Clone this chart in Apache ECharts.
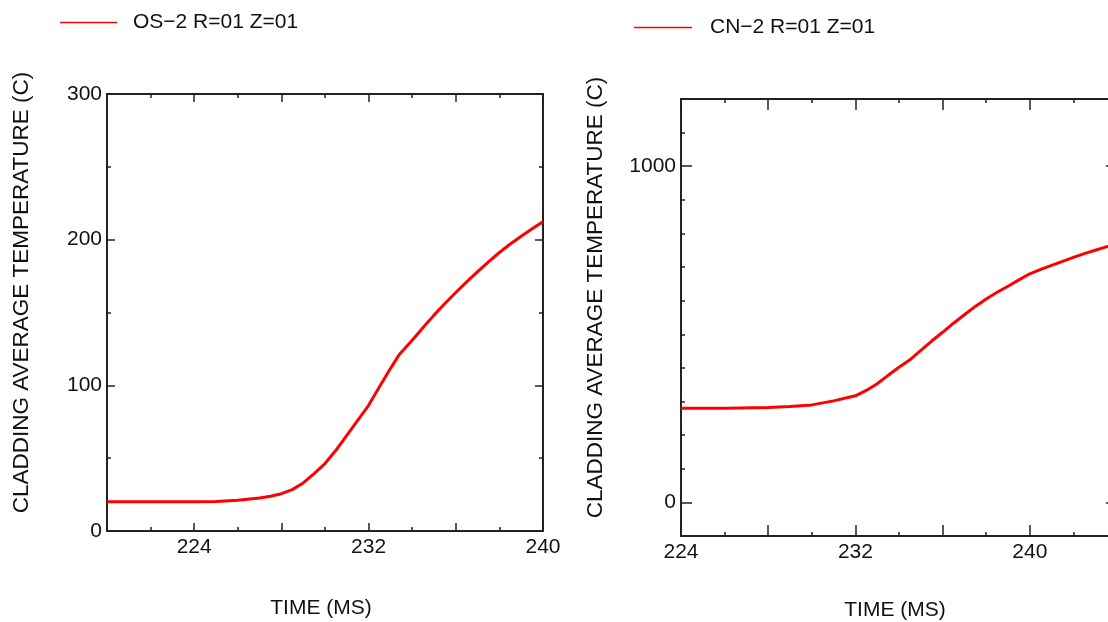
<!DOCTYPE html>
<html>
<head>
<meta charset="utf-8">
<script src="https://cdn.jsdelivr.net/npm/echarts@6/dist/echarts.min.js"></script>
<style>html,body{margin:0;padding:0;background:#fff}#c{width:1108px;height:622px}</style>
</head>
<body>
<div id="c"></div>
<script>
// ---- data ----
const osName = 'OS\u22122 R=01 Z=01';
const cnName = 'CN\u22122 R=01 Z=01';
const osTime = [220, 221, 222, 223, 224, 225, 226, 227, 227.5, 228, 228.5, 229, 229.5, 230, 230.5, 231, 231.5, 232, 232.5, 233, 233.42, 234, 234.5, 235, 235.5, 236, 236.5, 237, 237.5, 238, 238.5, 239, 239.5, 240];
const osTemp = [20.0, 20.0, 20.0, 20.0, 20.0, 20.2, 21.1, 22.7, 23.8, 25.6, 28.4, 33.0, 39.4, 46.3, 55.4, 65.7, 76.0, 86.3, 99.0, 111.5, 121.4, 131.0, 139.7, 148.2, 156.2, 163.7, 171.0, 178.0, 184.8, 191.2, 197.0, 202.4, 207.5, 212.3];
const cnTime = [224, 226, 228, 229, 230, 231, 232, 232.5, 233, 233.5, 234, 234.5, 235, 235.5, 236, 236.5, 237, 237.5, 238, 238.5, 239, 239.5, 240, 240.5, 241, 241.5, 242, 242.5, 243, 243.5, 244];
const cnTemp = [280, 280, 282, 285, 290, 302, 317, 333, 353, 378, 402, 424, 452, 480, 506, 533, 558, 583, 605, 625, 643, 662, 680, 693, 705, 717, 729, 740, 750, 760, 770];
const osXLabels = [224, 232, 240];
const cnXLabels = [224, 232, 240];
const osYLabels = [0, 100, 200, 300];
const cnYLabels = [0, 1000];
const xTitle = 'TIME (MS)';
const yTitle = 'CLADDING AVERAGE TEMPERATURE (C)';

const FONT = "'Liberation Sans', Arial, sans-serif";
const INK = '#222';
const lab = (vals, margin) => ({show: true, customValues: vals, fontSize: 21, fontFamily: FONT, color: '#111', margin: margin,
  formatter: v => String(v)});
const line = {show: true, onZero: false, lineStyle: {color: INK, width: 2}};

function xAx(grid, pos, min, max, major, labels, margin, name, gap) {
  return {
    type: 'value', gridIndex: grid, position: pos, min: min, max: max, interval: 4,
    axisLine: line,
    axisTick: {show: true, inside: true, length: major, lineStyle: {color: INK, width: 1.5}},
    minorTick: {show: true, splitNumber: 2, length: 4, lineStyle: {color: INK, width: 1.5}},
    splitLine: {show: false}, minorSplitLine: {show: false},
    axisLabel: labels ? lab(labels, margin) : {show: false},
    name: name || '', nameLocation: 'middle', nameGap: gap || 0,
    nameTextStyle: {fontSize: 21, fontFamily: FONT, color: '#111', padding: [0, 8, 0, 0]}
  };
}
function yAx(grid, pos, min, max, interval, opt) {
  return Object.assign({
    type: 'value', gridIndex: grid, position: pos, min: min, max: max, interval: interval,
    axisLine: line,
    axisTick: {show: true, inside: true, length: 8, lineStyle: {color: INK, width: 1.5}},
    minorTick: {show: false},
    splitLine: {show: false}, minorSplitLine: {show: false},
    axisLabel: {show: false}
  }, opt);
}
const yName = (gap) => ({name: yTitle, nameLocation: 'middle', nameGap: gap, nameRotate: 90,
  nameTextStyle: {fontSize: 22.5, fontFamily: FONT, color: '#111', padding: [0, 0, 0, 40]}});

const chart = echarts.init(document.getElementById('c'), null, {renderer: 'canvas'});
chart.setOption({
  animation: false,
  backgroundColor: '#fff',
  grid: [
    {left: 107, top: 94, width: 436, height: 437, containLabel: false, outerBoundsMode: 'none'},
    {left: 681, top: 99, width: 436, height: 437, containLabel: false, outerBoundsMode: 'none'}
  ],
  legend: [
    {data: [osName], left: 60, top: 12, padding: 0, icon: 'rect', itemWidth: 57, itemHeight: 1.5,
     textStyle: {fontSize: 21, fontFamily: FONT, color: '#111', padding: [0, 0, 0, 11]}},
    {data: [cnName], left: 634, top: 17, padding: 0, icon: 'rect', itemWidth: 58, itemHeight: 1.5,
     textStyle: {fontSize: 21, fontFamily: FONT, color: '#111', padding: [0, 0, 0, 13]}}
  ],
  xAxis: [
    xAx(0, 'bottom', 220, 240, 8, osXLabels, 6, xTitle, 67),
    xAx(0, 'top', 220, 240, 8, null, 0),
    xAx(1, 'bottom', 224, 244, 11, cnXLabels, 6, xTitle, 64),
    xAx(1, 'top', 224, 244, 11, null, 0)
  ],
  yAxis: [
    yAx(0, 'left', 0, 300, 100, Object.assign({
      minorTick: {show: true, splitNumber: 2, length: 4, lineStyle: {color: INK, width: 1.5}},
      axisLabel: lab(osYLabels, 5)}, yName(74))),
    yAx(0, 'right', 0, 300, 100, {
      minorTick: {show: true, splitNumber: 2, length: 4, lineStyle: {color: INK, width: 1.5}}}),
    yAx(1, 'left', -100, 1200, 100, Object.assign({
      axisTick: {show: true, inside: true, length: 4, lineStyle: {color: INK, width: 1.5}},
      axisLabel: lab(cnYLabels, 5)}, yName(74))),
    yAx(1, 'left', -100, 1200, 100, {axisLine: {show: false, onZero: false},
      axisTick: {show: true, inside: true, length: 11, customValues: cnYLabels, lineStyle: {color: INK, width: 1.5}}}),
    yAx(1, 'right', -100, 1200, 100, {
      axisTick: {show: true, inside: true, length: 4, lineStyle: {color: INK, width: 1.5}}}),
    yAx(1, 'right', -100, 1200, 100, {axisLine: {show: false, onZero: false},
      axisTick: {show: true, inside: true, length: 11, customValues: cnYLabels, lineStyle: {color: INK, width: 1.5}}})
  ],
  series: [
    {name: osName, type: 'line', xAxisIndex: 0, yAxisIndex: 0, symbol: 'none', smooth: false,
     color: '#ff0000', lineStyle: {color: '#ff0000', width: 3}, data: osTime.map((t, i) => [t, osTemp[i]])},
    {name: cnName, type: 'line', xAxisIndex: 2, yAxisIndex: 2, symbol: 'none', smooth: false,
     color: '#ff0000', lineStyle: {color: '#ff0000', width: 3}, data: cnTime.map((t, i) => [t, cnTemp[i]])}
  ]
});
</script>
</body>
</html>
